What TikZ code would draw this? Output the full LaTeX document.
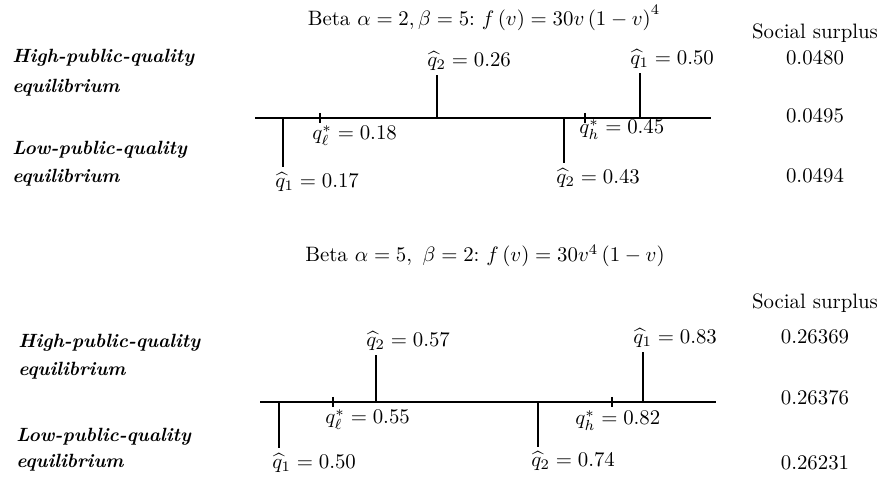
\documentclass[tikz,border=0pt]{standalone}
\begin{document}
\begin{tikzpicture}[x=0.48pt,y=-0.48pt,
  axis/.style={line width=0.65pt},
  stem/.style={line width=0.65pt},
  tickmark/.style={line width=0.65pt},
  lab/.style={inner sep=0pt, font=\normalsize},
  side/.style={inner sep=0pt, anchor=west, font=\fontsize{9.2}{11}\selectfont\bfseries\itshape},
  val/.style={inner sep=0pt, anchor=center}]
\useasboundingbox (0,0) rectangle (881,483);

% ---------- Top diagram ----------
\node[val] (t1) at (484,18) {Beta $\alpha=2,\beta=5$:\ $f\left(v\right)=30v\left(1-v\right)^4$};
\node[val] (ss1) at (815,33) {Social surplus};
\node[val] (v11) at (815,58) {0.0480};
\node[val] (v12) at (815,116) {0.0495};
\node[val] (v13) at (815,176) {0.0494};
\node[side] (h1a) at (12,58) {High-public-quality};
\node[side] (h1b) at (12,88) {equilibrium};
\node[side] (l1a) at (12,150) {Low-public-quality};
\node[side] (l1b) at (12,178) {equilibrium};

\coordinate (A1L) at (255,118);
\coordinate (A1R) at (711,118);
\draw[axis] (A1L) -- (A1R);

% high equilibrium stems
\coordinate (s11a) at (437,118); \coordinate (s11b) at (437,75);
\draw[stem] (s11a) -- (s11b);
\node[lab, anchor=south west] (q11) at (427,71) {$\widehat{q}_2=0.26$};
\coordinate (s12a) at (640,118); \coordinate (s12b) at (640,73);
\draw[stem] (s12a) -- (s12b);
\node[lab, anchor=south west] (q12) at (630,69) {$\widehat{q}_1=0.50$};
% ticks
\coordinate (k11a) at (320,113); \coordinate (k11b) at (320,123);
\draw[tickmark] (k11a) -- (k11b);
\node[lab, anchor=north west] (q13) at (312,125) {$q^*_\ell=0.18$};
\coordinate (k12a) at (585,113); \coordinate (k12b) at (585,123);
\draw[tickmark] (k12a) -- (k12b);
\node[lab, anchor=north west] (q14) at (579,119) {$q^*_h=0.45$};
% low equilibrium stems
\coordinate (s13a) at (283,118); \coordinate (s13b) at (283,167);
\draw[stem] (s13a) -- (s13b);
\node[lab, anchor=north west] (q15) at (275,172) {$\widehat{q}_1=0.17$};
\coordinate (s14a) at (564,118); \coordinate (s14b) at (564,163);
\draw[stem] (s14a) -- (s14b);
\node[lab, anchor=north west] (q16) at (556,168) {$\widehat{q}_2=0.43$};

% ---------- Bottom diagram ----------
\node[val] (t2) at (485,256) {Beta $\alpha=5,\ \beta=2$:\ $f\left(v\right)=30v^4\left(1-v\right)$};
\node[val] (ss2) at (815,303) {Social surplus};
\node[val] (v21) at (815,337) {0.26369};
\node[val] (v22) at (815,398) {0.26376};
\node[val] (v23) at (815,463) {0.26231};
\node[side] (h2a) at (18,343) {High-public-quality};
\node[side] (h2b) at (18,371) {equilibrium};
\node[side] (l2a) at (16,437) {Low-public-quality};
\node[side] (l2b) at (16,463) {equilibrium};

\coordinate (A2L) at (260,402);
\coordinate (A2R) at (716,402);
\draw[axis] (A2L) -- (A2R);

\coordinate (s21a) at (376,402); \coordinate (s21b) at (376,355);
\draw[stem] (s21a) -- (s21b);
\node[lab, anchor=south west] (r11) at (366,351) {$\widehat{q}_2=0.57$};
\coordinate (s22a) at (643,402); \coordinate (s22b) at (643,352);
\draw[stem] (s22a) -- (s22b);
\node[lab, anchor=south west] (r12) at (633,348) {$\widehat{q}_1=0.83$};
\coordinate (k21a) at (333,397); \coordinate (k21b) at (333,407);
\draw[tickmark] (k21a) -- (k21b);
\node[lab, anchor=north west] (r13) at (325,409) {$q^*_\ell=0.55$};
\coordinate (k22a) at (612,397); \coordinate (k22b) at (612,407);
\draw[tickmark] (k22a) -- (k22b);
\node[lab, anchor=north west] (r14) at (575,410) {$q^*_h=0.82$};
\coordinate (s23a) at (279,402); \coordinate (s23b) at (279,448);
\draw[stem] (s23a) -- (s23b);
\node[lab, anchor=north west] (r15) at (272,453) {$\widehat{q}_1=0.50$};
\coordinate (s24a) at (538,402); \coordinate (s24b) at (538,447);
\draw[stem] (s24a) -- (s24b);
\node[lab, anchor=north west] (r16) at (531,451) {$\widehat{q}_2=0.74$};
\end{tikzpicture}
\end{document}
